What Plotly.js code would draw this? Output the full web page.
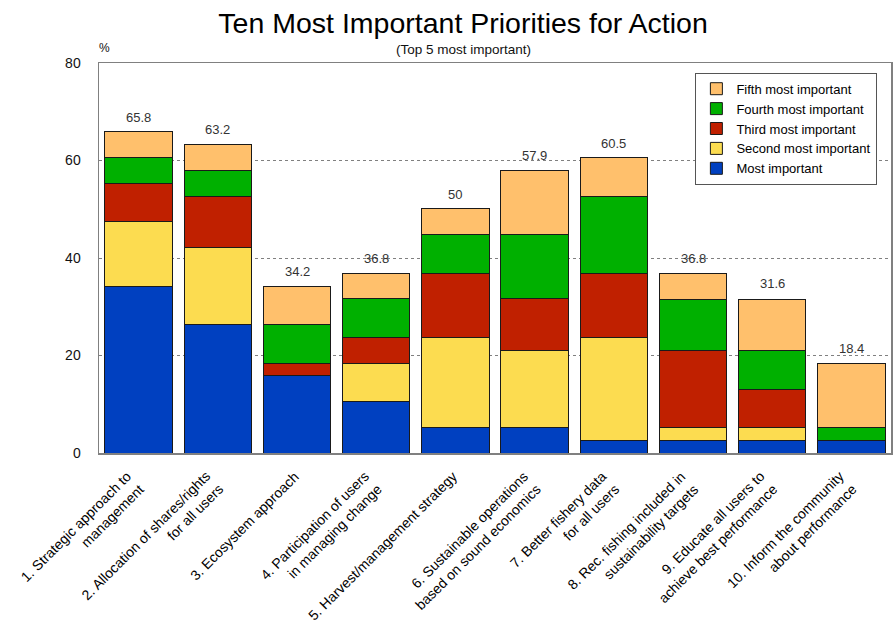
<!DOCTYPE html>
<html>
<head>
<meta charset="utf-8">
<script src="https://cdn.plot.ly/plotly-3.0.1.min.js"></script>
<style>html,body{margin:0;padding:0;background:#fff;}#chart{width:894px;height:622px;}</style>
</head>
<body>
<div id="chart"></div>
<script>
const categories = [
  "1. Strategic approach to<br>management",
  "2. Allocation of shares/rights<br>for all users",
  "3. Ecosystem approach",
  "4. Participation of users<br>in managing change",
  "5. Harvest/management strategy",
  "6. Sustainable operations<br>based on sound economics",
  "7. Better fishery data<br>for all users",
  "8. Rec. fishing included in<br>sustainability targets",
  "9. Educate all users to<br>achieve best performance",
  "10. Inform the community<br>about performance"
];
const mostImportant   = [34.2, 26.3, 15.8, 10.5, 5.3, 5.3, 2.6, 2.6, 2.6, 2.6];
const secondImportant = [13.2, 15.8, 0.0, 7.9, 18.4, 15.8, 21.1, 2.6, 2.6, 0.0];
const thirdImportant  = [7.9, 10.5, 2.6, 5.3, 13.2, 10.5, 13.2, 15.8, 7.9, 0.0];
const fourthImportant = [5.3, 5.3, 7.9, 7.9, 7.9, 13.2, 15.8, 10.5, 7.9, 2.6];
const fifthImportant  = [5.3, 5.3, 7.9, 5.3, 5.3, 13.2, 7.9, 5.3, 10.5, 13.2];
const totals = [65.8, 63.2, 34.2, 36.8, 50, 57.9, 60.5, 36.8, 31.6, 18.4];
const totalLabels = ["65.8", "63.2", "34.2", "36.8", "50", "57.9", "60.5", "36.8", "31.6", "18.4"];

const xIdx = categories.map((c, i) => i);
const narrow = "Liberation Sans Narrow, Arial Narrow, Liberation Sans, Arial, sans-serif";
const sans = "Liberation Sans, Arial, sans-serif";

function series(name, y, color) {
  return {
    type: "bar", name: name, x: xIdx, y: y,
    marker: {color: color, line: {color: "#1a1a1a", width: 1}},
    hoverinfo: "y+name"
  };
}
const data = [
  series("Most important", mostImportant, "#0040C0"),
  series("Second most important", secondImportant, "#FCDC50"),
  series("Third most important", thirdImportant, "#C02000"),
  series("Fourth most important", fourthImportant, "#00B000"),
  series("Fifth most important", fifthImportant, "#FFC06C")
];

const annotations = totals.map((t, i) => ({
  x: i, y: t, xref: "x", yref: "y", text: totalLabels[i], showarrow: false,
  yshift: 15, font: {family: narrow, size: 13, color: "#333"}
}));

// rotated category labels (right-aligned lines, -45 degrees)
const labelFont = 14;
categories.forEach((c, i) => {
  const lines = c.split("<br>").length;
  const h = lines * 1.3 * labelFont;
  annotations.push({
    x: i, xref: "x", y: 0, yref: "paper", text: c, showarrow: false,
    textangle: -45, align: "right", xanchor: "right", yanchor: "top", borderpad: 0,
    xshift: (lines === 1 ? -7 : -16) + 0.707 * h, yshift: -14,
    font: {family: sans, size: labelFont, color: "#000"}
  });
});

annotations.push({
  xref: "paper", yref: "paper", x: 0.46, y: 1, yshift: 14, xanchor: "center", yanchor: "middle",
  text: "(Top 5 most important)", showarrow: false, font: {family: narrow, size: 13.5, color: "#111"}
});
annotations.push({
  xref: "paper", yref: "paper", x: 0, xshift: 5, y: 1, yshift: 15, xanchor: "center", yanchor: "middle",
  text: "%", showarrow: false, font: {family: narrow, size: 12, color: "#111"}
});

const layout = {
  width: 894, height: 622,
  margin: {l: 99, r: 3, t: 63, b: 169},
  paper_bgcolor: "#fff", plot_bgcolor: "#fff",
  barmode: "stack", bargap: 0.15,
  title: {text: "Ten Most Important Priorities for Action", x: 0.518, xanchor: "center", y: 0.963, yanchor: "middle",
          font: {family: narrow, size: 28.5, color: "#000"}},
  xaxis: {
    tickmode: "array", tickvals: xIdx, ticktext: categories.map(() => ""),
    range: [-0.5, 9.5], showline: true, mirror: true, linecolor: "#808080", linewidth: 1.5,
    showgrid: false, ticks: ""
  },
  yaxis: {
    range: [0, 80], tickvals: [0, 20, 40, 60, 80], showline: true, mirror: true,
    linecolor: "#808080", linewidth: 1.5, gridcolor: "#808080", griddash: "dot", gridwidth: 1,
    zeroline: false, ticks: "", ticklabelstandoff: 14,
    tickfont: {family: narrow, size: 14, color: "#111"}
  },
  legend: {
    x: 0.753, y: 0.975, xanchor: "left", yanchor: "top", traceorder: "reversed",
    bgcolor: "#fff", bordercolor: "#555", borderwidth: 1,
    font: {family: sans, size: 13, color: "#000"}
  },
  annotations: annotations,
  showlegend: true
};
Plotly.newPlot("chart", data, layout, {displayModeBar: false, staticPlot: true});
</script>
</body>
</html>
